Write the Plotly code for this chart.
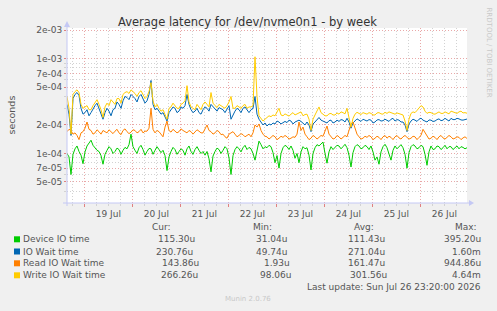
import math
from datetime import datetime, timedelta
import plotly.graph_objects as go

# ---------------- data (microseconds, 1-hour samples) ----------------
start = datetime(2026, 7, 18, 15, 20)
end = datetime(2026, 7, 26, 23, 20)

device_us = [100, 92, 60, 98, 112, 120, 105, 96, 78, 104, 120, 130, 138, 122, 115, 108, 105, 95, 77, 98,
             108, 118, 112, 100, 105, 114, 110, 98, 108, 116, 112, 124, 160, 118, 108, 100, 115, 122, 110, 96,
             105, 113, 112, 98, 108, 118, 110, 102, 108, 95, 66, 92, 105, 116, 110, 98, 105, 112, 108, 96,
             112, 120, 105, 98, 110, 118, 108, 100, 105, 96, 105, 88, 64, 94, 105, 114, 110, 100, 108, 118,
             112, 90, 60, 95, 110, 118, 112, 104, 115, 122, 110, 116, 112, 100, 85, 110, 135, 124, 112, 118,
             115, 122, 118, 102, 80, 95, 70, 100, 115, 122, 118, 110, 120, 108, 89, 100, 80, 104, 118, 112,
             115, 96, 67, 100, 115, 124, 120, 126, 132, 100, 79, 104, 118, 110, 115, 122, 120, 112, 118, 125,
             115, 96, 72, 102, 118, 124, 120, 112, 115, 122, 118, 110, 120, 104, 85, 92, 77, 104, 118, 125,
             115, 100, 85, 108, 120, 112, 118, 124, 115, 98, 70, 102, 118, 124, 120, 112, 115, 122, 118, 98,
             75, 104, 120, 110, 112, 120, 118, 110, 115, 122, 112, 118, 118, 110, 115, 120, 112, 118, 116, 112,
             115]

iowait_us = [330, 260, 155, 380, 420, 440, 410, 300, 260, 270, 290, 250, 270, 300, 320, 340, 300, 260, 230, 270,
             300, 280, 250, 290, 300, 350, 330, 300, 360, 400, 390, 370, 420, 400, 380, 350, 400, 420, 370, 340,
             360, 420, 590, 330, 290, 300, 280, 260, 270, 240, 220, 270, 290, 310, 300, 270, 280, 310, 300, 320,
             420, 330, 290, 270, 280, 300, 270, 260, 290, 310, 300, 280, 330, 310, 300, 280, 305, 300, 290, 270,
             300, 320, 230, 260, 280, 300, 290, 270, 300, 310, 285, 270, 290, 300, 400, 260, 230, 215, 200, 210,
             195, 205, 200, 210, 205, 220, 215, 205, 210, 218, 212, 225, 220, 205, 215, 222, 225, 218, 210, 200,
             215, 200, 170, 205, 215, 230, 240, 225, 220, 212, 210, 222, 225, 210, 215, 225, 218, 228, 225, 215,
             235, 215, 185, 210, 220, 232, 225, 218, 230, 225, 220, 228, 225, 210, 215, 226, 228, 220, 222, 230,
             225, 218, 230, 235, 220, 228, 225, 215, 215, 200, 170, 205, 220, 230, 225, 218, 230, 236, 225, 220,
             215, 226, 225, 218, 220, 228, 232, 222, 225, 235, 228, 220, 235, 228, 228, 235, 232, 226, 225, 228,
             231]

read_us = [170, 180, 175, 160, 165, 155, 140, 165, 170, 185, 215, 180, 175, 160, 165, 178, 170, 160, 175, 168,
           165, 178, 170, 162, 172, 180, 165, 158, 175, 182, 170, 162, 168, 178, 175, 165, 170, 180, 165, 172,
           172, 185, 300, 180, 165, 175, 170, 160, 150, 190, 220, 175, 168, 180, 172, 165, 170, 182, 175, 168,
           165, 175, 170, 160, 168, 178, 172, 165, 165, 185, 200, 175, 170, 160, 165, 175, 170, 158, 160, 150,
           145, 160, 165, 170, 160, 150, 155, 162, 158, 150, 155, 160, 150, 165, 200, 190, 205, 175, 160, 152,
           150, 142, 148, 155, 150, 140, 145, 152, 148, 155, 150, 142, 145, 150, 148, 160, 215, 175, 190, 160,
           150, 140, 145, 155, 150, 142, 148, 155, 152, 170, 195, 160, 150, 142, 145, 155, 150, 142, 148, 155,
           150, 175, 205, 215, 190, 160, 150, 142, 145, 152, 148, 155, 150, 140, 145, 152, 148, 140, 150, 155,
           145, 152, 148, 140, 150, 155, 146, 142, 150, 155, 148, 142, 145, 152, 150, 140, 148, 155, 180, 165,
           150, 142, 145, 152, 148, 140, 150, 155, 146, 142, 148, 155, 150, 142, 145, 150, 148, 140, 146, 150,
           144]

write_us = [400, 300, 160, 420, 450, 470, 440, 330, 300, 310, 320, 290, 290, 320, 350, 370, 330, 290, 240, 310,
            340, 320, 370, 350, 330, 380, 380, 340, 420, 440, 450, 430, 470, 450, 430, 400, 440, 460, 420, 380,
            400, 450, 560, 360, 310, 330, 300, 280, 290, 260, 230, 300, 310, 340, 320, 300, 300, 330, 340, 360,
            520, 350, 310, 300, 290, 330, 310, 290, 330, 350, 330, 310, 440, 340, 320, 305, 330, 320, 310, 300,
            320, 350, 400, 300, 300, 320, 310, 300, 320, 330, 300, 310, 310, 320, 1050, 400, 250, 235, 220, 230,
            240, 250, 245, 255, 250, 280, 300, 255, 250, 262, 255, 248, 260, 270, 255, 262, 265, 275, 250, 258,
            260, 230, 175, 230, 255, 280, 310, 270, 260, 250, 250, 262, 265, 255, 255, 268, 260, 275, 270, 262,
            300, 240, 190, 235, 260, 272, 265, 258, 270, 265, 260, 270, 265, 255, 255, 268, 270, 262, 260, 272,
            265, 275, 270, 262, 260, 268, 265, 258, 255, 220, 175, 230, 265, 275, 270, 285, 300, 320, 310, 280,
            265, 272, 270, 262, 260, 270, 275, 265, 265, 275, 270, 262, 280, 275, 270, 265, 275, 280, 268, 270,
            266]

series_names = ["Device IO time", "IO Wait time", "Read IO Wait time", "Write IO Wait time"]
series_colors = ["#00CC00", "#0066B3", "#FF8000", "#FFCC00"]
series_values = [device_us, iowait_us, read_us, write_us]

cur_vals = ["115.30u", "230.76u", "143.86u", "266.26u"]
min_vals = ["31.04u", "49.74u", "1.93u", "98.06u"]
avg_vals = ["111.43u", "271.04u", "161.47u", "301.56u"]
max_vals = ["395.20u", "1.60m", "944.86u", "4.64m"]

y_major = [5e-5, 7e-5, 1e-4, 2e-4, 5e-4, 7e-4, 1e-3, 2e-3]
y_major_text = ["5e-05", "7e-05", "1e-04", "2e-04", "5e-04", "7e-04", "1e-03", "2e-03"]
y_minor = [4e-5, 6e-5, 8e-5, 9e-5, 3e-4, 4e-4, 6e-4, 8e-4, 9e-4]

title_text = "Average latency for /dev/nvme0n1 - by week"

# ---------------- layout helpers ----------------
W, H = 497, 311
L, R, T, B = 67, 467, 28, 203
FONT = "DejaVu Sans"


def fx(px):
    return (px - L) / (R - L)


def fy(py):
    return (B - py) / (B - T)


times = [start + timedelta(hours=i) for i in range(len(device_us))]

fig = go.Figure()
for name, color, vals in zip(series_names, series_colors, series_values):
    fig.add_trace(go.Scatter(x=times[:len(vals)], y=[v * 1e-6 for v in vals], mode="lines",
                             name=name, line=dict(color=color, width=1),
                             hoverinfo="skip", showlegend=False))

# x ticks: every 6h (grey), midnights as minor (red), labels at noon
x_major, x_text, x_minor = [], [], []
t = datetime(2026, 7, 18, 18, 0)
while t <= end:
    if t.hour == 0:
        x_minor.append(t)
    else:
        x_major.append(t)
        x_text.append(f"{t.day} Jul" if t.hour == 12 else "")
    t += timedelta(hours=6)

GRID_MAJ = "#e9a8a8"
GRID_MIN = "#d2d2d2"
DASH = "1px,2px"
AXIS_COL = "#c4c8f4"
TXT = "#555555"

fig.update_xaxes(type="date", range=[start, end], tickmode="array",
                 tickvals=x_major, ticktext=x_text,
                 tickfont=dict(family=FONT, size=9, color=TXT),
                 showgrid=True, gridcolor=GRID_MIN, griddash=DASH, gridwidth=1,
                 ticks="outside", ticklen=2, tickcolor=GRID_MIN,
                 minor=dict(tickmode="array", tickvals=x_minor, showgrid=True,
                            gridcolor=GRID_MAJ, griddash=DASH, gridwidth=1,
                            ticks="outside", ticklen=3, tickcolor="#e08080"),
                 showline=False, zeroline=False, fixedrange=True)

fig.update_yaxes(type="log", range=[math.log10(3.0e-5), -2.675], tickmode="array",
                 tickvals=y_major, ticktext=y_major_text,
                 tickfont=dict(family=FONT, size=9, color=TXT),
                 showgrid=True, gridcolor=GRID_MAJ, griddash=DASH, gridwidth=1,
                 ticks="outside", ticklen=2, tickcolor="#e08080",
                 minor=dict(tickmode="array", tickvals=y_minor, showgrid=True,
                            gridcolor=GRID_MIN, griddash=DASH, gridwidth=1,
                            ticks="outside", ticklen=2, tickcolor=GRID_MIN),
                 showline=False, zeroline=False, fixedrange=True)

shapes = []
# axis lines with arrows
shapes.append(dict(type="line", xref="paper", yref="paper", x0=fx(67), x1=fx(67),
                   y0=fy(206), y1=fy(25), line=dict(color=AXIS_COL, width=1)))
shapes.append(dict(type="path", xref="paper", yref="paper",
                   path=f"M {fx(64)},{fy(27)} L {fx(70)},{fy(27)} L {fx(67)},{fy(21)} Z",
                   fillcolor=AXIS_COL, line=dict(color=AXIS_COL, width=0)))
shapes.append(dict(type="line", xref="paper", yref="paper", x0=fx(63), x1=fx(470),
                   y0=fy(203), y1=fy(203), line=dict(color=AXIS_COL, width=1)))
shapes.append(dict(type="path", xref="paper", yref="paper",
                   path=f"M {fx(469)},{fy(200)} L {fx(469)},{fy(206)} L {fx(474)},{fy(203)} Z",
                   fillcolor=AXIS_COL, line=dict(color=AXIS_COL, width=0)))

ann = []
ann.append(dict(text=title_text, x=fx(247.7), y=fy(21.5), xref="paper", yref="paper",
                xanchor="center", yanchor="middle", showarrow=False,
                font=dict(family=FONT, size=11.5, color="#333333")))
ann.append(dict(text="seconds", x=fx(10.5), y=fy(115), xref="paper", yref="paper",
                xanchor="center", yanchor="middle", showarrow=False, textangle=-90,
                font=dict(family=FONT, size=9.5, color=TXT)))
ann.append(dict(text="RRDTOOL / TOBI OETIKER", x=fx(488.5), y=fy(5), xref="paper", yref="paper",
                xanchor="center", yanchor="top", showarrow=False, textangle=90,
                font=dict(family=FONT, size=7, color="#c8c8c8")))

headers = ["Cur:", "Min:", "Avg:", "Max:"]
header_cx = [161.8, 262.5, 364.0, 465.5]
for h, cx in zip(headers, header_cx):
    ann.append(dict(text=h, x=fx(cx), y=fy(226.7), xref="paper", yref="paper",
                    xanchor="center", yanchor="middle", showarrow=False,
                    font=dict(family=FONT, size=9, color=TXT)))

row_y = [239.3, 251.5, 263.3, 275.3]
col_right = [[196.7, 289.3, 386.7, 482.7],
             [195.0, 289.3, 386.7, 482.7],
             [201.0, 291.7, 386.7, 482.7],
             [200.0, 293.3, 389.0, 482.7]]
for r in range(4):
    yy = row_y[r]
    shapes.append(dict(type="rect", xref="paper", yref="paper",
                       x0=fx(14), x1=fx(20), y0=fy(yy + 3), y1=fy(yy - 3),
                       fillcolor=series_colors[r], line=dict(width=0)))
    ann.append(dict(text=series_names[r], x=fx(20.5), y=fy(yy), xref="paper", yref="paper",
                    xanchor="left", yanchor="middle", showarrow=False,
                    font=dict(family=FONT, size=9, color=TXT)))
    for c, vals in enumerate([cur_vals, min_vals, avg_vals, max_vals]):
        ann.append(dict(text=vals[r], x=fx(col_right[r][c]), y=fy(yy), xref="paper", yref="paper",
                        xanchor="right", yanchor="middle", showarrow=False,
                        font=dict(family=FONT, size=9, color=TXT)))

ann.append(dict(text="Last update: Sun Jul 26 23:20:00 2026", x=fx(482.7), y=fy(287.3),
                xref="paper", yref="paper", xanchor="right", yanchor="middle", showarrow=False,
                font=dict(family=FONT, size=9, color=TXT)))
ann.append(dict(text="Munin 2.0.76", x=fx(248), y=fy(299), xref="paper", yref="paper",
                xanchor="center", yanchor="middle", showarrow=False,
                font=dict(family=FONT, size=7, color="#c8c8c8")))

fig.update_layout(width=W, height=H, margin=dict(l=L, r=W - R, t=T, b=H - B, pad=0),
                  paper_bgcolor="#f0f0f0", plot_bgcolor="#ffffff",
                  shapes=shapes, annotations=ann, showlegend=False,
                  font=dict(family=FONT, size=9, color=TXT))

fig.write_html("out.html", config={"displayModeBar": False, "staticPlot": True})
